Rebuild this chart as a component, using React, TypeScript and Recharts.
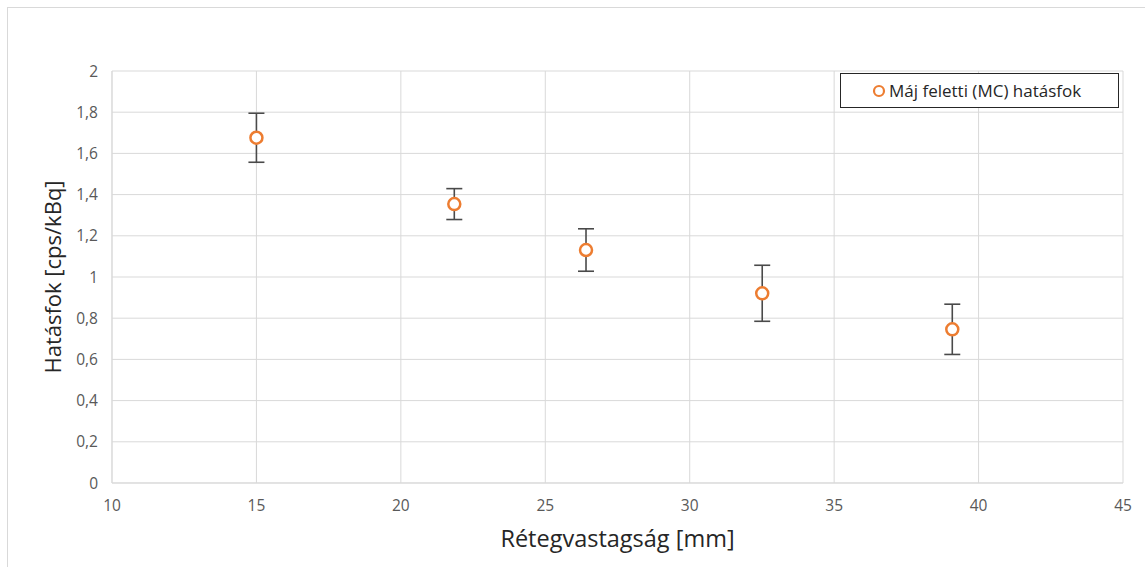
import { ScatterChart, Scatter, XAxis, YAxis, CartesianGrid, ErrorBar } from "recharts";

const thickness = [15.0, 21.85, 26.41, 32.51, 39.09];
const efficiency = [1.676, 1.354, 1.131, 0.921, 0.746];
const errors = [0.119, 0.075, 0.103, 0.136, 0.122];
const xTicks = [10, 15, 20, 25, 30, 35, 40, 45];
const yTicks = [0, 0.2, 0.4, 0.6, 0.8, 1, 1.2, 1.4, 1.6, 1.8, 2];
const seriesName = "Máj feletti (MC) hatásfok";

const data = thickness.map((x, i) => ({ x, y: efficiency[i], err: errors[i] }));

const FONT = "'Open Sans', sans-serif";
const ORANGE = "#ED7D31";

const Marker = (props: any) => {
  const { cx, cy } = props;
  if (cx == null || cy == null) return null;
  return <circle cx={cx} cy={cy} r={6} fill="#fff" stroke={ORANGE} strokeWidth={2.5} />;
};

export default function App() {
  return (
    <div style={{ position: "absolute", left: 0, top: 0, width: 1145, height: 567, overflow: "hidden", background: "#fff" }}>
      <div
        style={{
          position: "absolute",
          left: 7,
          top: 7,
          width: 1200,
          height: 600,
          border: "1px solid #d9d9d9",
        }}
      />
      <div style={{ position: "absolute", left: 0, top: 0 }}>
        <ScatterChart width={1145} height={567} margin={{ top: 71, right: 22, bottom: 0, left: 52 }}>
          <CartesianGrid stroke="#d9d9d9" strokeWidth={1} />
          <XAxis
            type="number"
            dataKey="x"
            domain={[10, 45]}
            ticks={xTicks}
            interval={0}
            height={84}
            axisLine={{ stroke: "#d9d9d9" }}
            tickLine={false}
            tick={{ fill: "#595959", fontSize: 15.5, fontFamily: FONT, dy: 9 }}
            label={{
              value: "Rétegvastagság [mm]",
              position: "insideBottom",
              offset: 20,
              fill: "#262626",
              fontSize: 23.5,
              fontFamily: FONT,
            }}
          />
          <YAxis
            type="number"
            dataKey="y"
            domain={[0, 2]}
            ticks={yTicks}
            interval={0}
            width={60}
            axisLine={{ stroke: "#d9d9d9" }}
            tickLine={false}
            tickFormatter={(v: number) => String(Math.round(v * 10) / 10).replace(".", ",")}
            tick={{ fill: "#595959", fontSize: 15.5, fontFamily: FONT, dx: -6 }}
            label={{
              value: "Hatásfok [cps/kBq]",
              angle: -90,
              position: "insideLeft",
              offset: 1,
              style: { textAnchor: "middle" },
              fill: "#262626",
              fontSize: 22,
              fontFamily: FONT,
            }}
          />
          <Scatter name={seriesName} data={data} shape={Marker} isAnimationActive={false}>
            <ErrorBar dataKey="err" direction="y" width={8} stroke="#4a4a4a" strokeWidth={1.6} />
          </Scatter>
        </ScatterChart>
      </div>
      <div
        style={{
          position: "absolute",
          left: 840,
          top: 73,
          width: 279,
          height: 35,
          boxSizing: "border-box",
          border: "1.5px solid #262626",
          background: "#fff",
          display: "flex",
          alignItems: "center",
          paddingLeft: 31,
          fontFamily: FONT,
          fontSize: 17,
          color: "#262626",
          whiteSpace: "nowrap",
        }}
      >
        <svg width={14} height={14} style={{ marginRight: 3 }}>
          <circle cx={7} cy={7} r={5} fill="#fff" stroke={ORANGE} strokeWidth={2.2} />
        </svg>
        {seriesName}
      </div>
    </div>
  );
}
